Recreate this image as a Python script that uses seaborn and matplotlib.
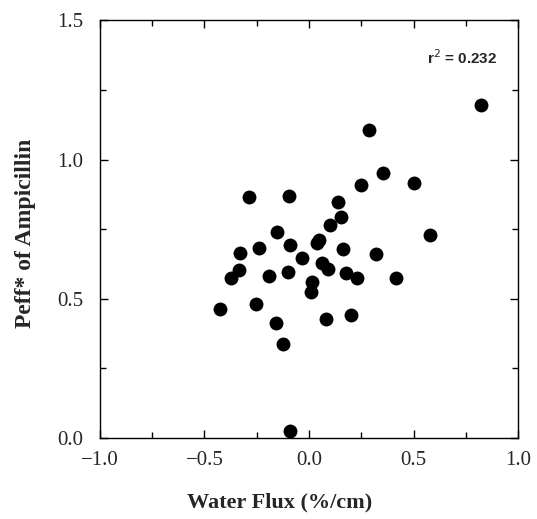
import pandas as pd
import matplotlib.pyplot as plt
import seaborn as sns
from matplotlib.ticker import MultipleLocator

# Data
water_flux = [0.822, 0.289, 0.353, 0.247, 0.504, -0.289, -0.094, 0.137, 0.152, 0.100,
              -0.152, 0.579, -0.091, 0.049, 0.038, -0.238, 0.164, -0.330, 0.321, -0.035,
              0.061, 0.092, -0.335, -0.375, -0.190, -0.099, 0.177, 0.231, 0.416, 0.013,
              0.008, -0.424, -0.254, -0.156, 0.080, 0.200, -0.123, -0.091]
peff = [1.194, 1.105, 0.951, 0.908, 0.914, 0.866, 0.869, 0.847, 0.794, 0.764,
        0.740, 0.728, 0.694, 0.710, 0.700, 0.684, 0.678, 0.663, 0.659, 0.645,
        0.627, 0.606, 0.603, 0.573, 0.582, 0.597, 0.593, 0.573, 0.575, 0.561,
        0.525, 0.464, 0.481, 0.414, 0.426, 0.441, 0.337, 0.024]
r2_text = 'r$^2$ = 0.232'

df = pd.DataFrame({'flux': water_flux, 'peff': peff})

sns.set_style('ticks')
plt.rcParams['font.family'] = ['Liberation Serif', 'DejaVu Serif']

fig = plt.figure(figsize=(5.37, 5.19), dpi=100)
ax = fig.add_axes([0.186, 0.156, 0.779, 0.805])

sns.scatterplot(x='flux', y='peff', data=df, ax=ax, color='black', s=100,
                edgecolor='black', linewidth=0)

ax.set_xlim(-1.0, 1.0)
ax.set_ylim(0.0, 1.5)
ax.xaxis.set_major_locator(MultipleLocator(0.5))
ax.xaxis.set_minor_locator(MultipleLocator(0.25))
ax.yaxis.set_major_locator(MultipleLocator(0.5))
ax.yaxis.set_minor_locator(MultipleLocator(0.25))
ax.tick_params(which='both', direction='in', top=True, right=True, width=1, color='black')
ax.tick_params(which='major', length=6, labelsize=15)
ax.tick_params(which='minor', length=4)
ax.tick_params(axis='x', which='major', pad=9)
ax.tick_params(axis='y', which='major', pad=12)
for sp in ax.spines.values():
    sp.set_color('black')
    sp.set_linewidth(1)

ax.set_xlabel('Water Flux (%/cm)', fontsize=16, fontweight='bold')
ax.set_ylabel('Peff* of Ampicillin', fontsize=17, fontweight='bold')
ax.xaxis.set_label_coords(0.43, -0.13)
ax.yaxis.set_label_coords(-0.152, 0.49)
ax.text(0.95, 0.91, r2_text, transform=ax.transAxes, ha='right', va='center',
        fontsize=11, fontweight='bold', family=['Liberation Sans', 'DejaVu Sans'])

fig.savefig('out.png', dpi=100)
